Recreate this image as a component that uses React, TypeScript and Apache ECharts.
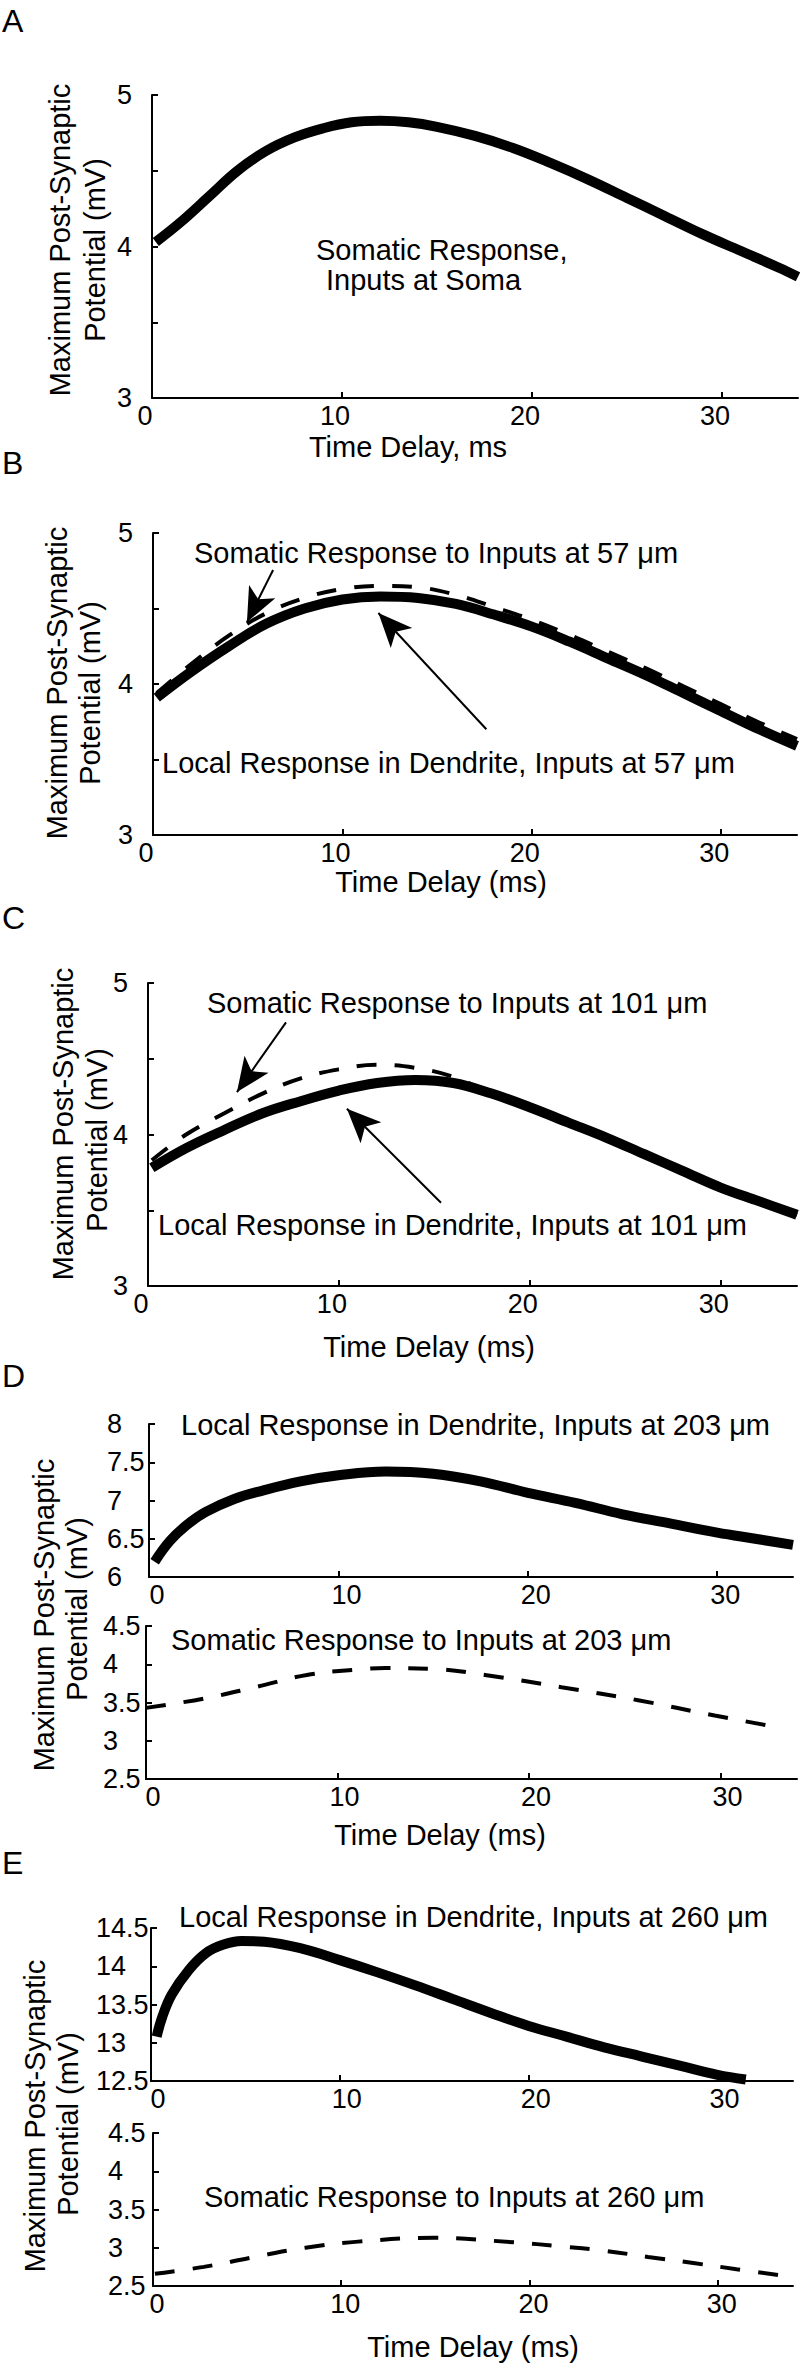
import React, { useEffect, useRef } from "react";
import * as echarts from "echarts";

const FONT = "'Liberation Sans', Arial, Helvetica, sans-serif";

// ---------- data ----------
const xTickValues = [0, 10, 20, 30];
const yTicksMain = [3, 3.5, 4, 4.5, 5];
const yLabelsMain = [3, 4, 5];

// Panel A: somatic response, inputs at soma
const tA = [0.2, 1.5, 3, 4.5, 6, 7.5, 9, 10.5, 12, 13.5, 15, 17, 19, 21, 23, 25, 27, 29, 31, 33, 34];
const vA = [4.03, 4.16, 4.33, 4.5, 4.63, 4.72, 4.78, 4.82, 4.83, 4.82, 4.79, 4.73, 4.65, 4.55, 4.44, 4.32, 4.2, 4.08, 3.97, 3.86, 3.8];

// Panel B: inputs at 57 um
const tB = [0.2, 2, 4, 6, 8, 10, 12, 14, 16, 18, 20, 22, 24, 26, 28, 30, 32, 34];
const vBLocal = [3.91, 4.08, 4.25, 4.4, 4.5, 4.56, 4.58, 4.57, 4.53, 4.46, 4.38, 4.28, 4.17, 4.06, 3.94, 3.82, 3.7, 3.59];
const vBSoma = [3.94, 4.13, 4.32, 4.47, 4.57, 4.63, 4.65, 4.64, 4.59, 4.51, 4.425, 4.325, 4.215, 4.105, 3.985, 3.865, 3.745, 3.635];

// Panel C: inputs at 101 um
const tC = [0.2, 2, 4, 6, 8, 10, 12, 14, 16, 18, 20, 22, 24, 26, 28, 30, 32, 34];
const vCLocal = [3.78, 3.91, 4.03, 4.14, 4.22, 4.29, 4.34, 4.36, 4.34, 4.27, 4.18, 4.08, 3.98, 3.87, 3.76, 3.65, 3.56, 3.47];
const vCSoma = [3.83, 4.0, 4.14, 4.27, 4.37, 4.43, 4.46, 4.44, 4.38, 4.27, 4.18, 4.08, 3.98, 3.87, 3.76, 3.65, 3.56, 3.47];

// Panel D: inputs at 203 um
const tDLocal = [0.3, 1.1, 2.0, 3.0, 4.5, 6, 8, 10, 12.5, 15, 17.5, 20, 22.5, 25, 27.5, 30, 32, 34];
const vDLocal = [6.2, 6.47, 6.68, 6.85, 7.02, 7.13, 7.25, 7.33, 7.38, 7.35, 7.25, 7.1, 6.97, 6.82, 6.7, 6.58, 6.5, 6.42];
const tDSoma = [0, 3, 5.7, 8.4, 11, 12.5, 15, 17.7, 21.7, 25.7, 29.7, 33.1];
const vDSoma = [3.43, 3.55, 3.7, 3.86, 3.93, 3.95, 3.94, 3.86, 3.7, 3.53, 3.33, 3.17];

// Panel E: inputs at 260 um
const tELocal = [0.3, 0.6, 1.1, 2.0, 2.9, 3.8, 4.8, 6, 8, 10, 12, 14, 16, 18, 20, 22, 24, 26, 28, 30, 31.5];
const vELocal = [13.08, 13.34, 13.63, 13.95, 14.17, 14.28, 14.33, 14.32, 14.23, 14.08, 13.92, 13.75, 13.57, 13.39, 13.22, 13.08, 12.94, 12.82, 12.7, 12.58, 12.52];
const tESoma = [0.1, 2.7, 5.4, 8.1, 10.9, 14.9, 19.2, 21.6, 24, 26.3, 28.7, 31, 33.9];
const vESoma = [2.66, 2.75, 2.88, 3.0, 3.08, 3.13, 3.07, 3.02, 2.96, 2.88, 2.8, 2.72, 2.62];

// arrows (data coordinates: [start, tip])
const arrowsB = [
  [[6.34, 4.755], [4.96, 4.41]],
  [[17.6, 3.7], [11.9, 4.47]],
];
const arrowsC = [
  [[7.23, 4.74], [4.66, 4.28]],
  [[15.35, 3.55], [10.42, 4.17]],
];

const zip = (t: number[], v: number[]) => t.map((x, i) => [x, v[i]]);

// ---------- layout ----------
const grids = [
  { left: 152, top: 95, width: 646, height: 303 }, // A
  { left: 153, top: 533, width: 644, height: 302 }, // B
  { left: 148, top: 983, width: 649, height: 303 }, // C
  { left: 149, top: 1424, width: 644, height: 153 }, // D upper
  { left: 146, top: 1626, width: 651, height: 153 }, // D lower
  { left: 151, top: 1928, width: 642, height: 153 }, // E upper
  { left: 153, top: 2133, width: 640, height: 153 }, // E lower
];

const axisLine = { show: true, onZero: false, lineStyle: { color: "#000", width: 2 } };
const tickStyle = { color: "#000", width: 2 };

function xAxis(gi: number, pad: number[]) {
  return {
    type: "value",
    gridIndex: gi,
    min: 0,
    max: 34,
    interval: 10,
    axisLine,
    axisTick: { show: true, inside: true, length: 6, lineStyle: tickStyle, customValues: xTickValues },
    axisLabel: {
      show: true,
      customValues: xTickValues,
      color: "#000",
      fontSize: 27,
      fontFamily: FONT,
      margin: 4,
      padding: pad,
    },
    splitLine: { show: false },
  };
}

function yAxisMain(gi: number) {
  return {
    type: "value",
    gridIndex: gi,
    min: 3,
    max: 5,
    interval: 0.5,
    axisLine,
    axisTick: { show: true, inside: true, length: 6, lineStyle: tickStyle, customValues: yTicksMain },
    axisLabel: {
      show: true,
      customValues: yLabelsMain,
      formatter: (v: number) => (Math.abs(v - Math.round(v)) < 1e-6 ? String(v) : ""),
      color: "#000",
      fontSize: 27,
      fontFamily: FONT,
      margin: 20,
      align: "right",
    },
    splitLine: { show: false },
  };
}

function yAxisSub(gi: number, min: number, max: number, margin: number) {
  return {
    type: "value",
    gridIndex: gi,
    min,
    max,
    interval: 0.5,
    axisLine,
    axisTick: { show: true, inside: true, length: 6, lineStyle: tickStyle },
    axisLabel: {
      show: true,
      color: "#000",
      fontSize: 27,
      fontFamily: FONT,
      margin,
      align: "left",
    },
    splitLine: { show: false },
  };
}

function solid(gi: number, data: number[][], extra: any = {}) {
  return {
    type: "line",
    xAxisIndex: gi,
    yAxisIndex: gi,
    data,
    showSymbol: false,
    smooth: 0.4,
    silent: true,
    z: 4,
    lineStyle: { color: "#000", width: 10, cap: "butt", join: "round" },
    ...extra,
  };
}

function dashed(gi: number, data: number[][]) {
  return {
    type: "line",
    xAxisIndex: gi,
    yAxisIndex: gi,
    data,
    showSymbol: false,
    smooth: 0.4,
    silent: true,
    z: 3,
    lineStyle: { color: "#000", width: 4, type: [20, 18], cap: "butt" },
  };
}

function arrowMarks(arrs: number[][][]) {
  return {
    markLine: {
      silent: true,
      symbol: ["none", "arrow"],
      symbolSize: [22, 34],
      label: { show: false },
      lineStyle: { color: "#000", width: 2, type: "solid" },
      emphasis: { disabled: true },
      data: arrs.map((a) => [{ coord: a[0] }, { coord: a[1] }]),
    },
  };
}

function txt(text: string, x: number, y: number, opts: any = {}) {
  const align = opts.align || "left";
  return {
    type: "text",
    x,
    y,
    rotation: opts.rotation || 0,
    z: 100,
    silent: true,
    style: {
      text,
      fill: "#000",
      fontSize: opts.size || 29,
      fontFamily: FONT,
      align,
      textAlign: align,
      verticalAlign: "middle",
      textVerticalAlign: "middle",
    },
  };
}

const ROT = Math.PI / 2;

export default function App() {
  const ref = useRef<HTMLDivElement>(null);
  useEffect(() => {
    document.body.style.margin = "0";
    if (!ref.current) return;
    const chart = echarts.init(ref.current, undefined, { renderer: "svg" });
    const option: any = {
      animation: false,
      backgroundColor: "#fff",
      grid: grids.map((g) => ({ ...g, containLabel: false })),
      xAxis: [
        xAxis(0, [0, 14, 0, 0]),
        xAxis(1, [0, 14, 0, 0]),
        xAxis(2, [0, 14, 0, 0]),
        xAxis(3, [0, 0, 0, 16]),
        xAxis(4, [0, 0, 0, 14]),
        xAxis(5, [0, 0, 0, 14]),
        xAxis(6, [0, 0, 0, 8]),
      ],
      yAxis: [
        yAxisMain(0),
        yAxisMain(1),
        yAxisMain(2),
        yAxisSub(3, 6, 8, 42),
        yAxisSub(4, 2.5, 4.5, 43),
        yAxisSub(5, 12.5, 14.5, 55),
        yAxisSub(6, 2.5, 4.5, 45),
      ],
      series: [
        solid(0, zip(tA, vA)),
        dashed(1, zip(tB, vBSoma)),
        solid(1, zip(tB, vBLocal), arrowMarks(arrowsB)),
        dashed(2, zip(tC, vCSoma)),
        solid(2, zip(tC, vCLocal), arrowMarks(arrowsC)),
        solid(3, zip(tDLocal, vDLocal)),
        dashed(4, zip(tDSoma, vDSoma)),
        solid(5, zip(tELocal, vELocal)),
        dashed(6, zip(tESoma, vESoma)),
      ],
      graphic: [
        // panel letters
        txt("A", 2, 21, { size: 32 }),
        txt("B", 2, 463, { size: 32 }),
        txt("C", 2, 918, { size: 32 }),
        txt("D", 2, 1376, { size: 32 }),
        txt("E", 2, 1863, { size: 32 }),
        // annotations
        txt("Somatic Response,", 316, 250),
        txt("Inputs at Soma", 326, 280),
        txt("Somatic Response to Inputs at 57 \u03bcm", 194, 553),
        txt("Local Response in Dendrite, Inputs at 57 \u03bcm", 162, 763),
        txt("Somatic Response to Inputs at 101 \u03bcm", 207, 1003),
        txt("Local Response in Dendrite, Inputs at 101 \u03bcm", 158, 1225),
        txt("Local Response in Dendrite, Inputs at 203 \u03bcm", 181, 1425),
        txt("Somatic Response to Inputs at 203 \u03bcm", 171, 1640),
        txt("Local Response in Dendrite, Inputs at 260 \u03bcm", 179, 1917),
        txt("Somatic Response to Inputs at 260 \u03bcm", 204, 2197),
        // x-axis titles
        txt("Time Delay, ms", 408, 447, { align: "center" }),
        txt("Time Delay (ms)", 441, 882, { align: "center" }),
        txt("Time Delay (ms)", 429, 1347, { align: "center" }),
        txt("Time Delay (ms)", 440, 1835, { align: "center" }),
        txt("Time Delay (ms)", 473, 2347, { align: "center" }),
        // y-axis titles
        txt("Maximum Post-Synaptic", 60, 240, { align: "center", rotation: ROT }),
        txt("Potential (mV)", 95, 250, { align: "center", rotation: ROT }),
        txt("Maximum Post-Synaptic", 57, 683, { align: "center", rotation: ROT }),
        txt("Potential (mV)", 90, 693, { align: "center", rotation: ROT }),
        txt("Maximum Post-Synaptic", 63, 1124, { align: "center", rotation: ROT }),
        txt("Potential (mV)", 97, 1140, { align: "center", rotation: ROT }),
        txt("Maximum Post-Synaptic", 44, 1615, { align: "center", rotation: ROT }),
        txt("Potential (mV)", 77, 1609, { align: "center", rotation: ROT }),
        txt("Maximum Post-Synaptic", 35, 2116, { align: "center", rotation: ROT }),
        txt("Potential (mV)", 68, 2124, { align: "center", rotation: ROT }),
      ],
    };
    chart.setOption(option);
    return () => chart.dispose();
  }, []);
  return (
    <div
      ref={ref}
      style={{ position: "absolute", left: 0, top: 0, width: 800, height: 2363, background: "#fff" }}
    />
  );
}
